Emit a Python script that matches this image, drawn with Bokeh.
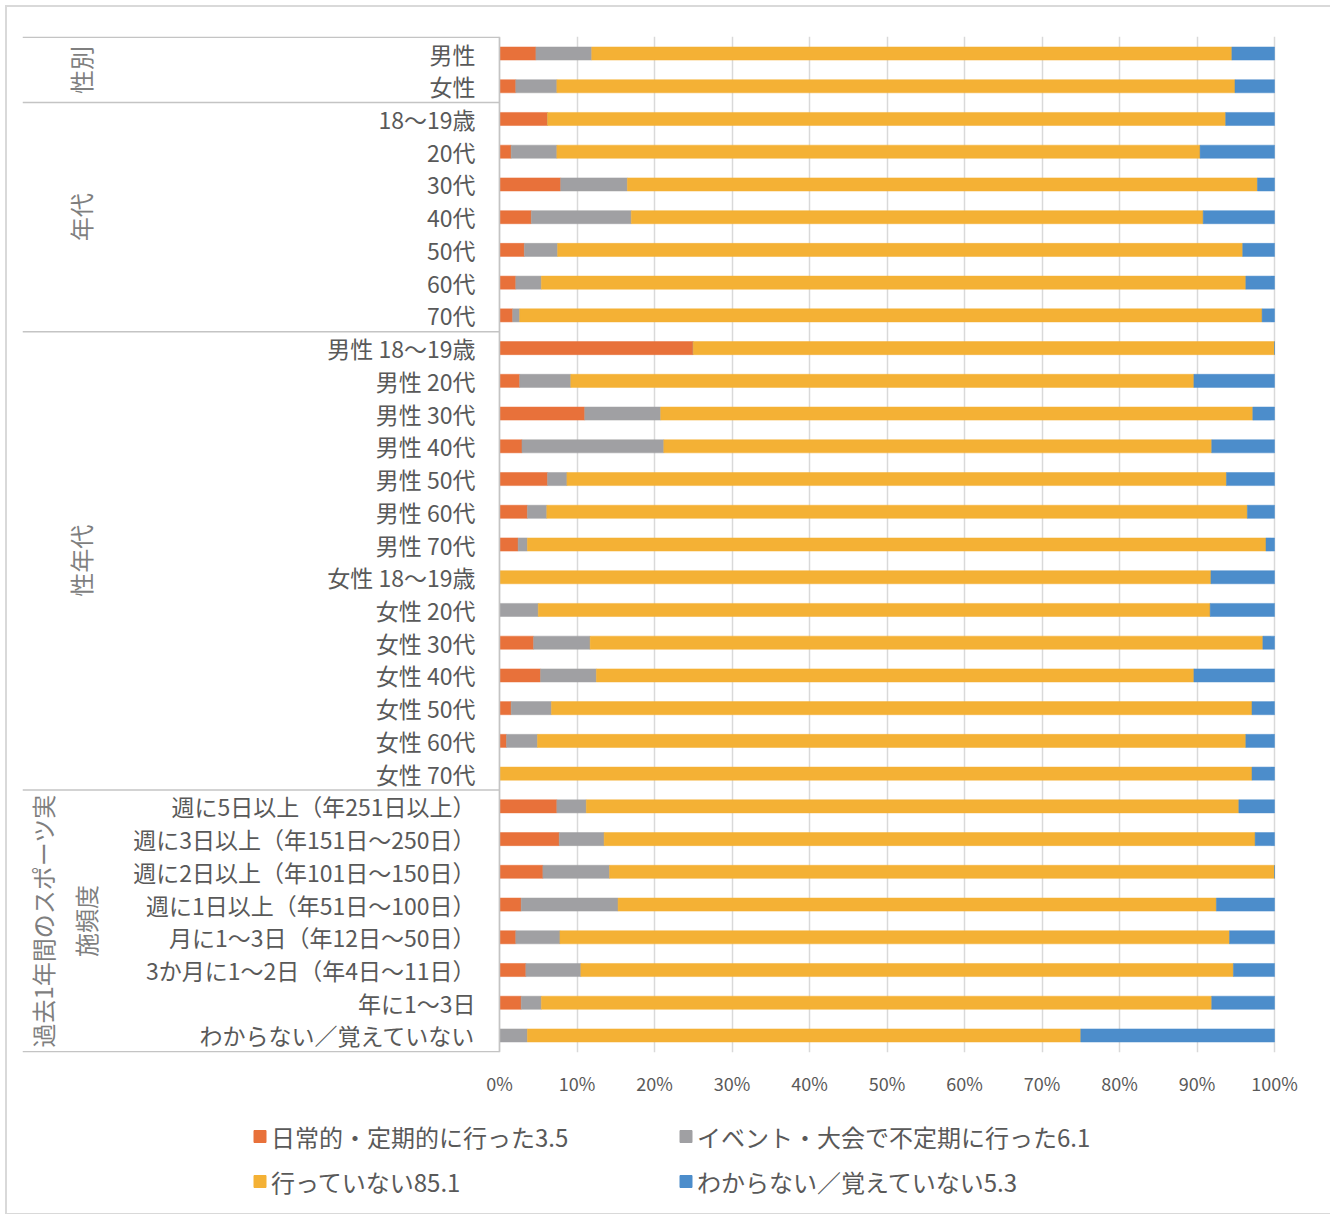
import numpy as np
from bokeh.plotting import figure
from bokeh.layouts import column
from bokeh.models import Range1d, FixedTicker, PrintfTickFormatter
from bokeh.core.properties import value
from bokeh.embed import file_html
from bokeh.resources import INLINE

# ---- data -------------------------------------------------------------
categories = [
    "男性", "女性",
    "18～19歳", "20代", "30代", "40代", "50代", "60代", "70代",
    "男性 18～19歳", "男性 20代", "男性 30代", "男性 40代", "男性 50代", "男性 60代", "男性 70代",
    "女性 18～19歳", "女性 20代", "女性 30代", "女性 40代", "女性 50代", "女性 60代", "女性 70代",
    "週に5日以上（年251日以上）", "週に3日以上（年151日～250日）", "週に2日以上（年101日～150日）",
    "週に1日以上（年51日～100日）", "月に1～3日（年12日～50日）", "3か月に1～2日（年4日～11日）",
    "年に1～3日", "わからない／覚えていない",
]

regular = [4.7, 2.1, 6.2, 1.5, 7.9, 4.1, 3.2, 2.1, 1.7,
           25.0, 2.6, 11.0, 2.9, 6.2, 3.6, 2.4,
           0.0, 0.0, 4.4, 5.3, 1.5, 0.9, 0.0,
           7.4, 7.7, 5.6, 2.8, 2.1, 3.4, 2.8, 0.0]
event = [7.2, 5.3, 0.0, 5.9, 8.6, 12.9, 4.3, 3.3, 0.9,
         0.0, 6.6, 9.8, 18.3, 2.5, 2.5, 1.2,
         0.0, 5.0, 7.3, 7.2, 5.2, 4.0, 0.0,
         3.8, 5.8, 8.6, 12.5, 5.7, 7.1, 2.6, 3.6]
not_done = [82.6, 87.5, 87.5, 83.0, 81.3, 73.8, 88.4, 90.9, 95.8,
            75.0, 80.4, 76.4, 70.7, 85.1, 90.4, 95.3,
            91.8, 86.7, 86.8, 77.1, 90.4, 91.4, 97.1,
            84.2, 84.0, 85.8, 77.2, 86.4, 84.2, 86.5, 71.4]
unknown = [5.5, 5.1, 6.3, 9.6, 2.2, 9.2, 4.1, 3.7, 1.6,
           0.0, 10.4, 2.8, 8.1, 6.2, 3.5, 1.1,
           8.2, 8.3, 1.5, 10.4, 2.9, 3.7, 2.9,
           4.6, 2.5, 0.0, 7.5, 5.8, 5.3, 8.1, 25.0]

series_labels = ["日常的・定期的に行った3.5", "イベント・大会で不定期に行った6.1",
                 "行っていない85.1", "わからない／覚えていない5.3"]
series_colors = ["#E8713A", "#A0A0A3", "#F4B135", "#4C8DCB"]

group_labels = [["性別"], ["年代"], ["性年代"], ["過去1年間のスポーツ実", "施頻度"]]
group_sizes = [2, 7, 14, 8]

tick_values = [0, 10, 20, 30, 40, 50, 60, 70, 80, 90, 100]

# ---- layout helpers ---------------------------------------------------
PX = 7.75                     # screen pixels per percent
FRAME_L, FRAME_R = 22, 1276   # page x of the plotting frame edges
ORIGIN = 7                    # page offset of the layout content
x_start = -(499 - FRAME_L) / PX
x_end = 100 + (FRAME_R - 1274) / PX
FONT = "Noto Sans CJK JP"
TXT = "#595959"
W = 1323
H_MAIN = 1105
BORDER_L = FRAME_L - ORIGIN
BORDER_R = W - (FRAME_R - ORIGIN)

rows = np.arange(len(categories))

p = figure(width=W, height=H_MAIN,
           x_range=Range1d(x_start, x_end),
           y_range=Range1d(30.52, -0.52),
           output_backend="svg", toolbar_location=None,
           y_axis_location=None,
           min_border_left=BORDER_L, min_border_right=BORDER_R,
           min_border_top=29, min_border_bottom=H_MAIN - (1052 - ORIGIN),
           outline_line_color=None)

# grid
p.xgrid.ticker = FixedTicker(ticks=tick_values)
p.xgrid.grid_line_color = "#D9D9D9"
p.xgrid.grid_line_width = 1.5
p.ygrid.visible = False

# x axis
p.xaxis.ticker = FixedTicker(ticks=tick_values)
p.xaxis.formatter = PrintfTickFormatter(format="%d%%")
p.xaxis.axis_line_color = None
p.xaxis.major_tick_line_color = None
p.xaxis.minor_tick_line_color = None
p.xaxis.major_label_text_font = FONT
p.xaxis.major_label_text_font_size = "18px"
p.xaxis.major_label_text_color = TXT
p.xaxis.major_label_standoff = 11

# stacked bars
series = [regular, event, not_done, unknown]
left = np.zeros(len(categories))
for vals, col in zip(series, series_colors):
    v = np.array(vals)
    p.hbar(y=rows, left=left, right=left + v, height=0.4,
           fill_color=col, line_color=col, line_width=0.5)
    left = left + v

# label table: separators and right border
bounds = np.concatenate([[0], np.cumsum(group_sizes)]) - 0.5
p.segment(x0=[x_start] * len(bounds), y0=bounds, x1=[0] * len(bounds), y1=bounds,
          line_color="#C4C4C4", line_width=1.5)
p.segment(x0=[0], y0=[bounds[0]], x1=[0], y1=[bounds[-1]],
          line_color="#C4C4C4", line_width=1.5)

# category labels
p.text(x=[-24 / PX] * len(categories), y=rows, text=categories,
       text_align="right", text_baseline="middle",
       text_font=value(FONT), text_font_size="23px", text_color=TXT)

# group labels, rotated
gx, gy, gt = [], [], []
for lines, lo, hi in zip(group_labels, bounds[:-1], bounds[1:]):
    mid = (lo + hi) / 2
    if len(lines) == 1:
        gx.append((80 - 499) / PX); gy.append(mid); gt.append(lines[0])
    else:
        for k, line in enumerate(lines):
            gx.append((42 + 43 * k - 499) / PX); gy.append(mid); gt.append(line)
p.text(x=gx, y=gy, text=gt, angle=np.pi / 2,
       text_align="center", text_baseline="middle",
       text_font=value(FONT), text_font_size="24px", text_color="#7F7F7F")

# ---- legend strip (page-pixel coordinates) ----------------------------
LH = 101
TOP = ORIGIN + H_MAIN
q = figure(width=W, height=LH,
           x_range=Range1d(FRAME_L, FRAME_R), y_range=Range1d(TOP + LH, TOP),
           output_backend="svg", toolbar_location=None,
           x_axis_location=None, y_axis_location=None,
           min_border_left=BORDER_L, min_border_right=BORDER_R,
           min_border_top=0, min_border_bottom=0, outline_line_color=None)
q.grid.visible = False

col_x = [259.5, 685.5]     # swatch centres of the two legend columns
row_y = [1136, 1181]       # row centres
lx, ly = [], []
for i in range(len(series_labels)):
    lx.append(col_x[i % 2]); ly.append(row_y[i // 2])
q.rect(x=lx, y=ly, width=12, height=12, fill_color=series_colors,
       line_color=series_colors)
q.text(x=[x + 11 for x in lx], y=ly, text=series_labels,
       text_align="left", text_baseline="middle",
       text_font=value(FONT), text_font_size="24px", text_color=TXT)

layout = column(p, q, spacing=0,
                styles={"margin": "5px 0 0 5px", "border": "2px solid #D9D9D9"})

open("out.html", "w").write(file_html(layout, INLINE))
